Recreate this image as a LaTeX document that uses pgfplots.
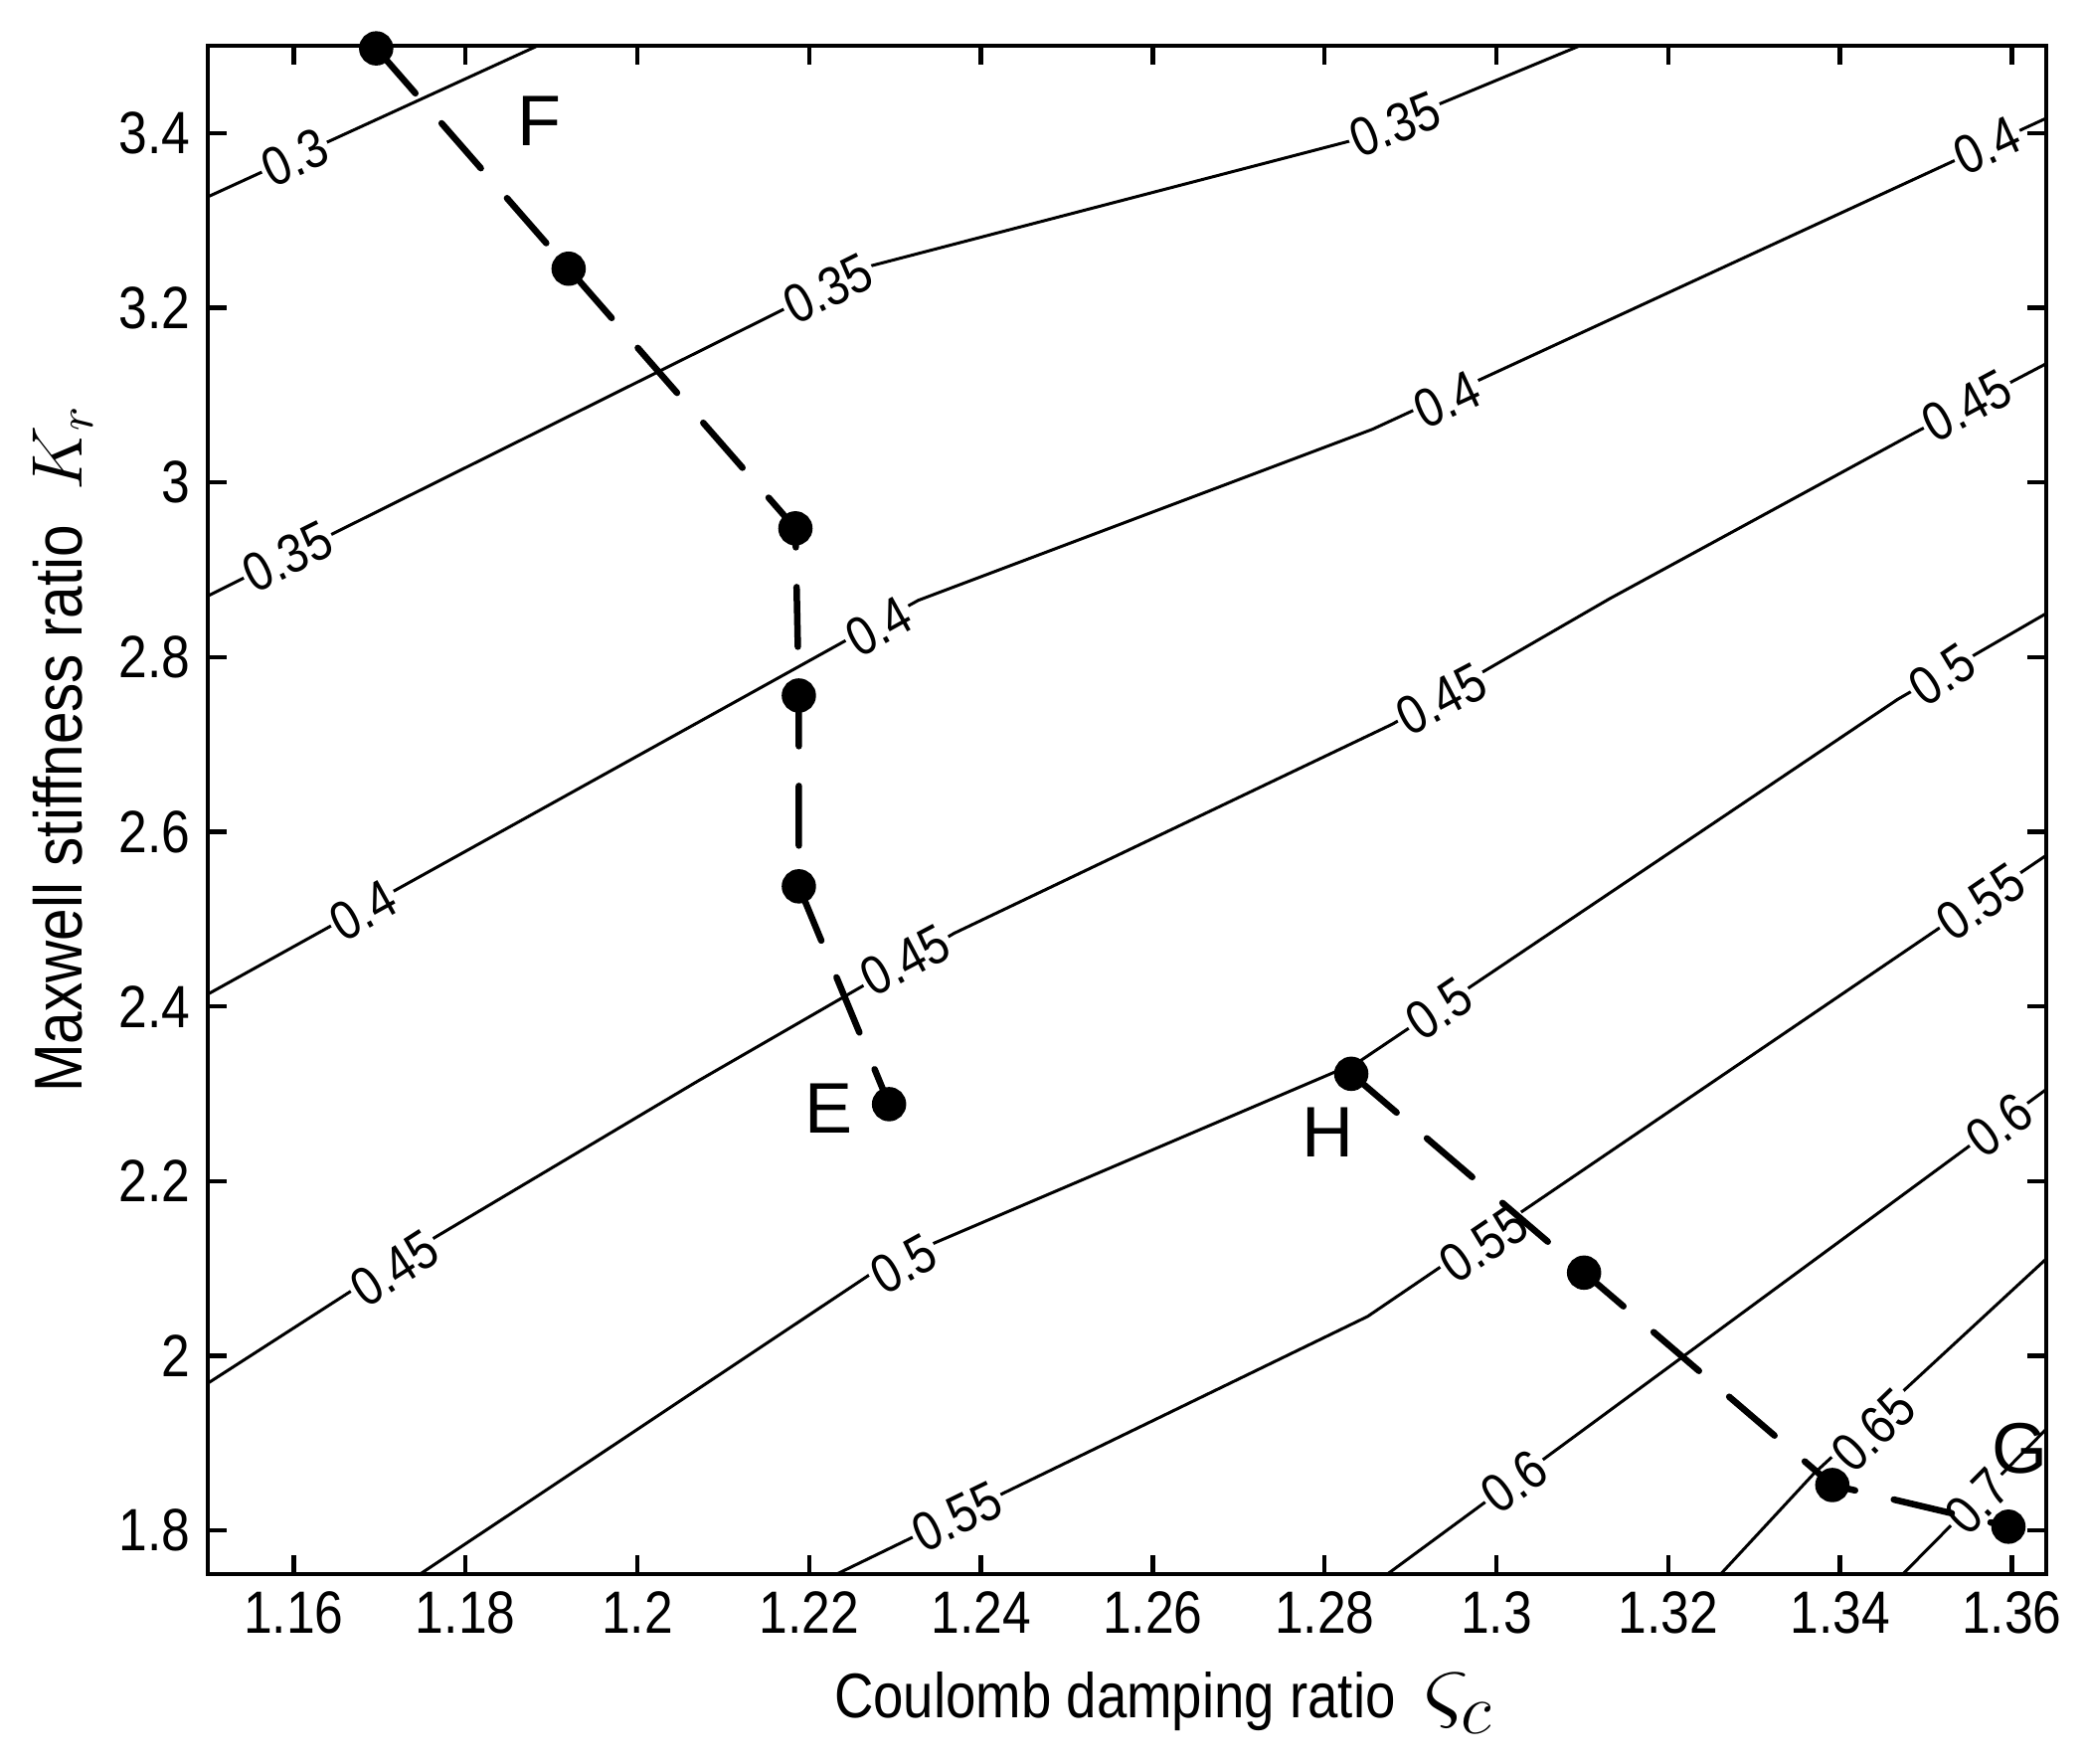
\documentclass[border=0pt]{standalone}
\usepackage{fontspec}
\setmainfont{Liberation Sans}[FakeStretch=0.86]
\newfontfamily\letterfont{Liberation Sans}
\usepackage{pgfplots}
\pgfplotsset{compat=1.18}
\tikzset{clab/.style={font=\fontsize{11}{11}\selectfont, fill=white, inner sep=0.6pt}}

\begin{document}
\begin{tikzpicture}
\begin{axis}[
  name=ax,
  width=369.8pt, height=307.4pt, scale only axis,
  xmin=1.15, xmax=1.364, ymin=1.75, ymax=3.5,
  xtick={1.16,1.18,1.2,1.22,1.24,1.26,1.28,1.3,1.32,1.34,1.36},
  xticklabels={1.16,1.18,1.2,1.22,1.24,1.26,1.28,1.3,1.32,1.34,1.36},
  ytick={1.8,2,2.2,2.4,2.6,2.8,3,3.2,3.4},
  yticklabels={1.8,2,2.2,2.4,2.6,2.8,3,3.2,3.4},
  xtick pos=both, ytick pos=both,
  tick align=inside, major tick length=3.8pt,
  tick style={line width=0.9pt, black},
  axis line style={line width=0.9pt},
  tick label style={font=\fontsize{12}{12}\selectfont},
  clip=false,
  xlabel={Coulomb damping ratio\hspace{0.45em}{\fontsize{20}{20}\selectfont$\varsigma_c$}},
  ylabel={Maxwell stiffness ratio\hspace{0.5em}$K_r$},
  xlabel style={at={(axis description cs:0.520,-0.0943)}, anchor=base, font=\fontsize{12.7}{12.7}\selectfont},
  ylabel style={at={(axis description cs:-0.0684,0.540)}, anchor=base, font=\fontsize{13.6}{13.6}\selectfont},
]
\coordinate (SW) at (rel axis cs:0,0);
\coordinate (NE) at (rel axis cs:1,1);

% contour lines
\addplot[black, line width=0.6pt] coordinates {(1.15,3.327) (1.1884,3.5)};
\addplot[black, line width=0.6pt] coordinates {(1.15,2.870) (1.2272,3.248) (1.2830,3.391) (1.3097,3.5)};
\addplot[black, line width=0.6pt] coordinates {(1.15,2.414) (1.2327,2.865) (1.2856,3.061) (1.364,3.417)};
\addplot[black, line width=0.6pt] coordinates {(1.15,1.9685) (1.1756,2.1306) (1.2070,2.3143) (1.2369,2.4839) (1.2879,2.7233) (1.3132,2.8670) (1.3488,3.0575) (1.364,3.136)};
\addplot[black, line width=0.6pt] coordinates {(1.1747,1.75) (1.229,2.1057) (1.284,2.3367) (1.3467,2.7516) (1.364,2.850)};
\addplot[black, line width=0.6pt] coordinates {(1.2232,1.75) (1.285,2.045) (1.364,2.573)};
\addplot[black, line width=0.6pt] coordinates {(1.2873,1.75) (1.364,2.305)};
\addplot[black, line width=0.6pt] coordinates {(1.3261,1.75) (1.3369,1.8646) (1.364,2.111)};
\addplot[black, line width=0.6pt] coordinates {(1.3473,1.75) (1.364,1.916)};

% contour labels
\node[clab, rotate=24.6] at (axis cs:1.1601,3.372) {0.3};
\node[clab, rotate=26.5] at (axis cs:1.1593,2.915) {0.35};
\node[clab, rotate=26.5] at (axis cs:1.2222,3.222) {0.35};
\node[clab, rotate=22] at (axis cs:1.2882,3.410) {0.35};
\node[clab, rotate=29] at (axis cs:1.1681,2.510) {0.4};
\node[clab, rotate=29] at (axis cs:1.2281,2.835) {0.4};
\node[clab, rotate=24.8] at (axis cs:1.2943,3.095) {0.4};
\node[clab, rotate=24.8] at (axis cs:1.3571,3.386) {0.4};
\node[clab, rotate=32.8] at (axis cs:1.1717,2.100) {0.45};
\node[clab, rotate=27.9] at (axis cs:1.2312,2.453) {0.45};
\node[clab, rotate=27.9] at (axis cs:1.2936,2.752) {0.45};
\node[clab, rotate=28.3] at (axis cs:1.3548,3.088) {0.45};
\node[clab, rotate=29] at (axis cs:1.2310,2.105) {0.5};
\node[clab, rotate=33.9] at (axis cs:1.2933,2.397) {0.5};
\node[clab, rotate=33.9] at (axis cs:1.3519,2.780) {0.5};
\node[clab, rotate=25.9] at (axis cs:1.2372,1.816) {0.55};
\node[clab, rotate=34.2] at (axis cs:1.2985,2.128) {0.55};
\node[clab, rotate=34.2] at (axis cs:1.3564,2.520) {0.55};
\node[clab, rotate=36.3] at (axis cs:1.3021,1.856) {0.6};
\node[clab, rotate=36.3] at (axis cs:1.3585,2.264) {0.6};
\node[clab, rotate=44] at (axis cs:1.3439,1.915) {0.65};
\node[clab, rotate=45.3] at (axis cs:1.3560,1.833) {0.7};

% paths with markers
\addplot[black, line width=1.3pt, line cap=round, dash pattern=on 12pt off 8pt,
  mark=*, mark size=2.8pt, mark options={solid}]
  coordinates {(1.1696,3.497) (1.1920,3.2447) (1.2184,2.9474) (1.2188,2.756) (1.2188,2.5375) (1.2293,2.2881)};
\addplot[black, line width=1.3pt, line cap=round, dash pattern=on 12pt off 8pt,
  mark=*, mark size=2.8pt, mark options={solid}]
  coordinates {(1.2831,2.3229) (1.3102,2.0952) (1.3391,1.852) (1.3596,1.8043)};

\node[font=\letterfont\fontsize{14.4}{14.4}\selectfont] at (axis cs:1.1886,3.4133) {F};
\node[font=\letterfont\fontsize{14.4}{14.4}\selectfont] at (axis cs:1.2223,2.2827) {E};
\node[font=\letterfont\fontsize{14.4}{14.4}\selectfont] at (axis cs:1.2804,2.2555) {H};
\node[font=\letterfont\fontsize{14.4}{14.4}\selectfont] at (axis cs:1.3609,1.8939) {G};
\end{axis}
\pgfresetboundingbox
\path[use as bounding box] ([shift={(-41.8pt,-38pt)}]SW) rectangle ([shift={(7.8pt,9.2pt)}]NE);
\end{tikzpicture}
\end{document}
